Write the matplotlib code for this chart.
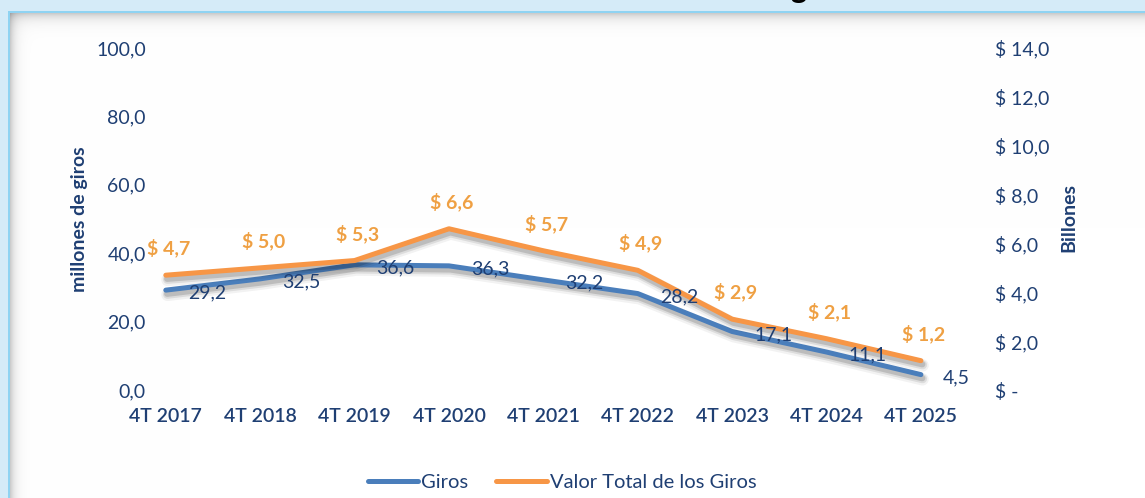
import numpy as np
import matplotlib
matplotlib.use("Agg")
import matplotlib.pyplot as plt
import matplotlib.patheffects as pe
from matplotlib.lines import Line2D

plt.rcParams['font.family'] = ['Lato', 'DejaVu Sans']

categories = ["4T 2017", "4T 2018", "4T 2019", "4T 2020", "4T 2021",
              "4T 2022", "4T 2023", "4T 2024", "4T 2025"]
giros = [29.2, 32.5, 36.6, 36.3, 32.2, 28.2, 17.1, 11.1, 4.5]
valor = [4.7, 5.0, 5.3, 6.6, 5.7, 4.9, 2.9, 2.1, 1.2]
left_ticks = [0, 20, 40, 60, 80, 100]
right_ticks = [0, 2, 4, 6, 8, 10, 12, 14]

W, H = 1145, 498
DPI = 100
fig = plt.figure(figsize=(W / DPI, H / DPI), dpi=DPI)

# ---- background frame (light blue band, border, inner shadow) ----
bg = np.ones((H, W, 3))
band = np.array([213, 235, 248]) / 255
border = np.array([143, 211, 242]) / 255
rows = np.arange(H)[:, None]
cols = np.arange(W)[None, :]
top_sh = np.where(rows >= 13, 0.20 * np.exp(-(rows - 13) / 6.0), 0)
left_sh = np.where(cols >= 10, 0.20 * np.exp(-(cols - 10) / 5.0), 0)
shade = (1 - top_sh) * (1 - left_sh)
bg = bg * shade[:, :, None]
bg[:11, :, :] = band
bg[:, :8, :] = band
bg[11:13, 8:, :] = border
bg[11:, 8:10, :] = border
bgax = fig.add_axes([0, 0, 1, 1], zorder=0)
bgax.imshow(bg, extent=(0, W, H, 0), aspect='auto', interpolation='nearest')
bgax.set_xlim(0, W)
bgax.set_ylim(H, 0)
bgax.axis('off')

# cut-off title descender (the reference shows only the bottom of this letter)
fig.text(790 / W, 1.004, "g", fontsize=22, fontweight='bold', color='black',
         ha='left', va='baseline')

# ---- main axes ----
x0, x1 = 165.8, 920.9
ytop, ybot = 48, 390
ax = fig.add_axes([x0 / W, (H - ybot) / H, (x1 - x0) / W, (ybot - ytop) / H], zorder=1)
ax.set_facecolor('none')
ax2 = ax.twinx()
ax2.set_facecolor('none')

x = np.arange(len(categories))
navy = '#1F3F73'
blue = '#4A7EBB'
orange = '#F79646'
lab_orange = '#EFA043'


def shadow():
    return [pe.SimpleLineShadow(offset=(1.2, -3.4), shadow_color='k', alpha=0.05, linewidth=9),
            pe.SimpleLineShadow(offset=(1.2, -3.0), shadow_color='k', alpha=0.09, linewidth=6.5),
            pe.SimpleLineShadow(offset=(1.0, -2.6), shadow_color='k', alpha=0.14, linewidth=4.5),
            pe.Normal()]


ax.plot(x, giros, color=blue, lw=3.6, solid_capstyle='round', solid_joinstyle='round',
        clip_on=False, path_effects=shadow(), zorder=3)
ax2.plot(x, valor, color=orange, lw=3.6, solid_capstyle='round', solid_joinstyle='round',
         clip_on=False, path_effects=shadow(), zorder=3)

for xi, v in zip(x, giros):
    ax2.annotate(f"{v:.1f}".replace('.', ','), (xi, v), xycoords=ax.transData,
                 xytext=(22, -3), textcoords='offset pixels', ha='left', va='center',
                 fontsize=14, color=navy, zorder=6, annotation_clip=False)
for xi, v in zip(x, valor):
    ax2.annotate(f"$ {v:.1f}".replace('.', ','), (xi, v), xytext=(3, 27),
                 textcoords='offset pixels', ha='center', va='center',
                 fontsize=14, fontweight='bold', color=lab_orange, zorder=6,
                 annotation_clip=False)

ax.set_xlim(0, len(categories) - 1)
ax.set_ylim(0, 100)
ax2.set_ylim(0, 14)
ax.set_yticks(left_ticks)
ax.set_yticklabels([f"{t:.1f}".replace('.', ',') for t in left_ticks])
ax2.set_yticks(right_ticks)
ax2.set_yticklabels(["$ -" if t == 0 else f"$ {t:.1f}".replace('.', ',') for t in right_ticks])
ax.set_xticks(x)
ax.set_xticklabels(categories, fontweight='semibold')

ax.tick_params(axis='y', length=0, pad=14.4, labelsize=14, labelcolor=navy)
ax2.tick_params(axis='y', length=0, pad=53, labelsize=14, labelcolor=navy)
ax.tick_params(axis='x', length=0, pad=13, labelsize=14, labelcolor=navy)
for a in (ax, ax2):
    for s in a.spines.values():
        s.set_visible(False)

fig.text(79 / W, 1 - 219 / H, "millones de giros", rotation=90, ha='center', va='center',
         fontsize=14, fontweight='bold', color=navy)
fig.text(1069 / W, 1 - 218 / H, "Billones", rotation=90, ha='center', va='center',
         fontsize=14, fontweight='bold', color=navy)

handles = [Line2D([], [], color=blue, lw=3.6, solid_capstyle='round'),
           Line2D([], [], color=orange, lw=3.6, solid_capstyle='round')]
leg = fig.legend(handles, ["Giros", "Valor Total de los Giros"], loc='center',
                 bbox_to_anchor=(562 / W, 1 - 482 / H), ncol=2, frameon=False,
                 fontsize=14.5, handlelength=2.5, handletextpad=0.15, columnspacing=1.4,
                 borderaxespad=0, borderpad=0)
for t in leg.get_texts():
    t.set_color(navy)

fig.savefig("out.png", dpi=DPI)
